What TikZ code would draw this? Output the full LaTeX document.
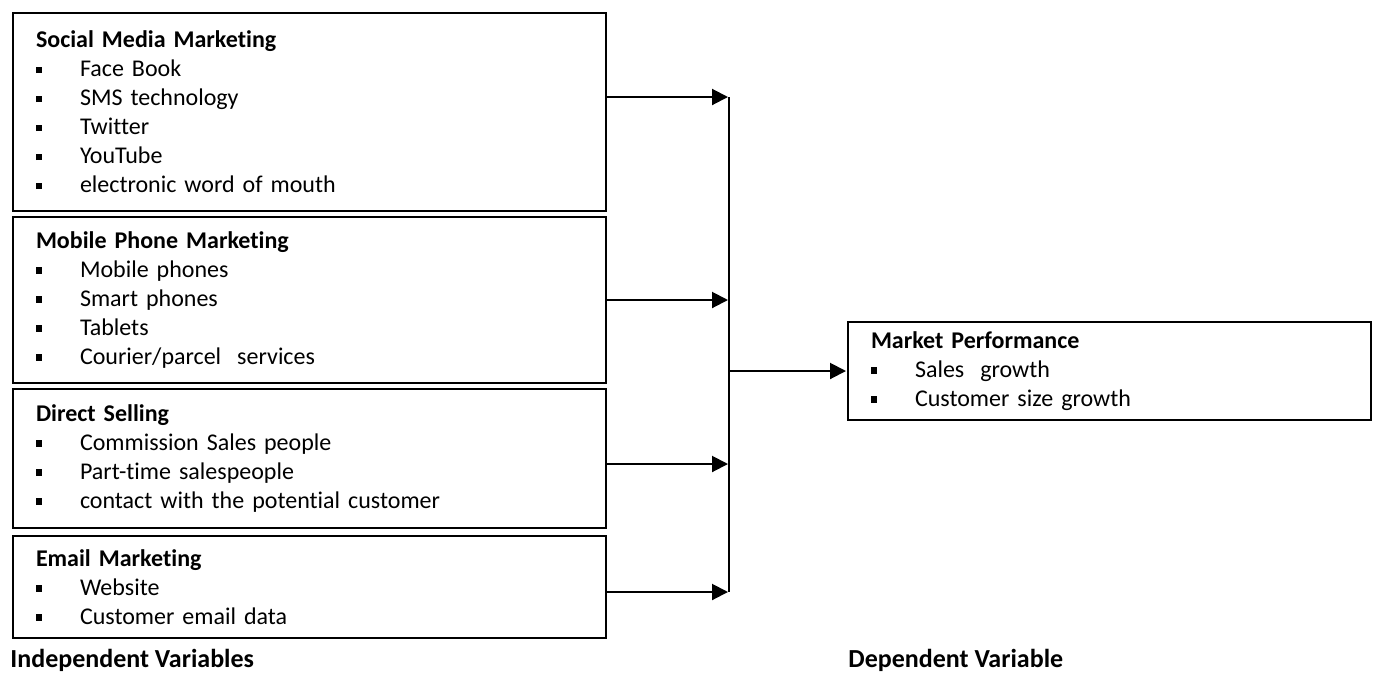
\documentclass[tikz,border=0pt]{standalone}
\usepackage{fontspec}
\setmainfont[Ligatures=NoCommon]{Carlito}
\usetikzlibrary{arrows.meta}

\newcommand{\topico}[1]{\\\makebox[22pt][l]{\raisebox{1.8pt}{\rule{3.2pt}{3.2pt}}}#1} %marcador quadrado de cada item

\tikzset{
  caixa/.style={draw, line width=1pt, anchor=north west, inner xsep=11.5pt, inner ysep=0pt,
    text width=273.5pt, align=left, font=\fontsize{12}{14.5}\selectfont},
  seta/.style={line width=1pt, shorten >=0.5pt, -{Triangle[length=8pt,width=8pt]}},
  rotulo/.style={anchor=west, inner sep=0pt, font=\fontsize{13}{15}\selectfont\bfseries}
}

\begin{document}
\begin{tikzpicture}[x=0.5pt, y=-0.5pt] %1 unidade = 1 pixel da imagem

\useasboundingbox (0,0) rectangle (1374,675);

%----------------------------------------------------
%Variaveis independentes
%----------------------------------------------------
\node[caixa, minimum height=99pt] (social) at (12,12) {\textbf{Social Media Marketing}
  \topico{Face Book}\topico{SMS technology}\topico{Twitter}\topico{YouTube}\topico{electronic word of mouth}};
\node[caixa, minimum height=83pt] (mobile) at (12,216) {\textbf{Mobile Phone Marketing}
  \topico{Mobile phones}\topico{Smart phones}\topico{Tablets}\topico{Courier/parcel~ services}};
\node[caixa, minimum height=69.5pt] (direct) at (12,388) {\textbf{Direct Selling}
  \topico{Commission Sales people}\topico{Part-time salespeople}\topico{contact with the potential customer}};
\node[caixa, minimum height=51pt] (email) at (12,535) {\textbf{Email Marketing}
  \topico{Website}\topico{Customer email data}};

%----------------------------------------------------
%Variavel dependente
%----------------------------------------------------
\node[caixa, text width=238.5pt, minimum height=49pt] (perf) at (847,321) {\textbf{Market Performance}
  \topico{Sales~ growth}\topico{Customer size growth}};

%rotulos de baixo
\node[rotulo] (indep) at (10,660) {Independent Variables};
\node[rotulo] (dep) at (848,660) {Dependent Variable};

%----------------------------------------------------
%Setas e barra de juncao
%----------------------------------------------------
\coordinate (j1) at (729,97);
\coordinate (j3) at (729,464);
\coordinate (j4) at (729,592);

\draw[seta] (social.east |- j1) -- (j1);
\draw[seta] (mobile.east) -- (mobile.east -| j1);
\draw[seta] (direct.east |- j3) -- (j3);
\draw[seta] (email.east |- j4) -- (j4);
\draw[line width=1pt] (j1) -- (j4); %barra vertical
\draw[seta] (perf.west -| j1) -- (perf.west);

\end{tikzpicture}
\end{document}
